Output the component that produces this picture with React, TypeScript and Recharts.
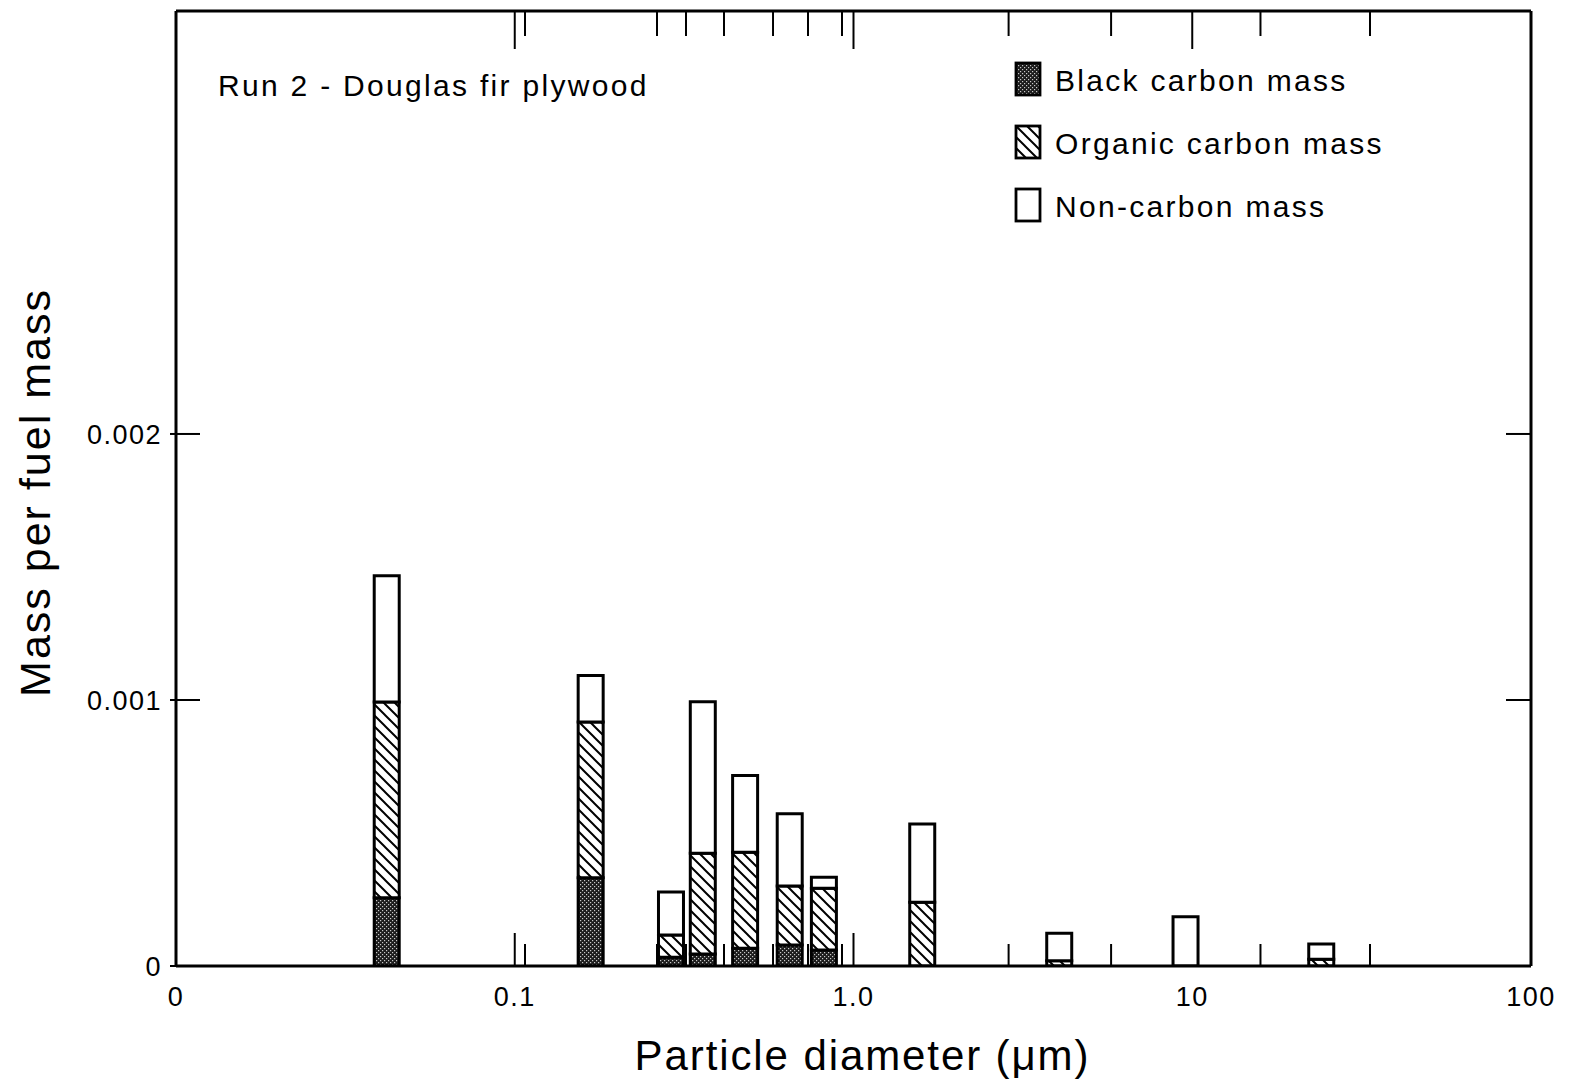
import React from "react";
import { ComposedChart, Bar, XAxis, YAxis, Legend } from "recharts";

// particle diameter (um), mass per fuel mass per component
const diameters = [0.042, 0.168, 0.29, 0.36, 0.48, 0.65, 0.82, 1.6, 4.06, 9.58, 24.1];
const blackCarbon = [0.000257, 0.000332, 0.000033, 0.000045, 0.000067, 0.000079, 0.00006, 0, 0, 0, 0];
const organicCarbon = [0.000735, 0.000585, 0.000084, 0.000379, 0.000361, 0.000222, 0.000232, 0.00024, 0.00002, 0, 0.000025];
const nonCarbon = [0.000475, 0.000175, 0.000161, 0.000569, 0.000288, 0.000271, 0.000042, 0.000294, 0.000103, 0.000185, 0.000058];

const xLabelTicks = [0.01, 0.1, 1, 10, 100];
const xLabels = ["0", "0.1", "1.0", "10", "100"];
const topDecadeTicks = [0.1, 1, 10];
const bottomDecadeTicks = [0.1, 1];
const stageTicks = [0.1072, 0.263, 0.3203, 0.4147, 0.5787, 0.734, 0.9249, 2.87, 5.76, 15.9, 33.47];
const yTicks = [0, 0.001, 0.002];
const yLabels = ["0", "0.001", "0.002"];
const yInnerTicks = [0.001, 0.002];

const title = "Run 2 - Douglas fir plywood";

const series = [
  { key: "bc", name: "Black carbon mass", fill: "url(#bcDots)" },
  { key: "oc", name: "Organic carbon mass", fill: "url(#ocHatch)" },
  { key: "nc", name: "Non-carbon mass", fill: "#ffffff" },
];

const data = diameters.map((d, i) => ({
  d,
  bc: blackCarbon[i],
  oc: organicCarbon[i],
  nc: nonCarbon[i],
}));

const FONT = "'Liberation Sans', Arial, Helvetica, sans-serif";
const X_DOMAIN: [number, number] = [0.01, 100];

const Patterns = () => (
  <svg width={0} height={0} style={{ position: "absolute" }}>
    <defs>
      <pattern id="bcDots" patternUnits="userSpaceOnUse" width={4} height={4}>
        <rect width={4} height={4} fill="#1c1c1c" />
        <rect x={0} y={0} width={1.2} height={1.2} fill="#c8c8c8" />
        <rect x={2} y={2} width={1.2} height={1.2} fill="#c8c8c8" />
      </pattern>
      <pattern id="ocHatch" patternUnits="userSpaceOnUse" width={11} height={11}>
        <rect width={11} height={11} fill="#fff" />
        <path d="M-1,-1 L12,12 M-6.5,4.5 L6.5,17.5 M4.5,-6.5 L17.5,6.5" stroke="#000" strokeWidth={2} />
      </pattern>
    </defs>
  </svg>
);

const textStyle = { fontSize: 30, lineHeight: "30px", letterSpacing: 2.3, whiteSpace: "nowrap" as const };

const LegendBox = () => (
  <div style={{ position: "relative", width: 1571, height: 240, fontFamily: FONT, color: "#000" }}>
    <div style={{ position: "absolute", left: 218, top: 71, ...textStyle }}>{title}</div>
    {series.map((s, i) => (
      <div key={s.key}>
        <svg width={30} height={38} style={{ position: "absolute", left: 1014, top: 61 + i * 63 }}>
          <rect x={2} y={2} width={24} height={32} fill={s.fill} stroke="#000" strokeWidth={2.8} />
        </svg>
        <div style={{ position: "absolute", left: 1055, top: 66 + i * 63, ...textStyle }}>{s.name}</div>
      </div>
    ))}
  </div>
);

const NoTick = () => <g />;

// inward tick mark on the top / bottom frame; decade marks are longer
const InnerTick = ({ x, y, payload, dir, decades }: any) => {
  const isDecade = decades.includes(payload.value);
  const len = dir > 0 ? (isDecade ? 38 : 25) : isDecade ? 33 : 22;
  return <line x1={x} y1={y} x2={x} y2={y + dir * len} stroke="#000" strokeWidth={2} />;
};

const XTick = ({ x, y, payload }: any) => {
  const idx = xLabelTicks.indexOf(payload.value);
  return (
    <text x={x} y={y + 40} textAnchor="middle" fontSize={27} fontFamily={FONT} letterSpacing={1.5} fill="#000">
      {idx >= 0 ? xLabels[idx] : ""}
    </text>
  );
};

const YTick = ({ x, y, payload }: any) => {
  const idx = yTicks.indexOf(payload.value);
  return (
    <text x={x} y={y + 10} textAnchor="end" fontSize={27} fontFamily={FONT} letterSpacing={1.5} fill="#000">
      {idx >= 0 ? yLabels[idx] : ""}
    </text>
  );
};

const tickLineStyle = { stroke: "#000", strokeWidth: 2 };
const frameStyle = { stroke: "#000", strokeWidth: 3 };

export default function App() {
  return (
    <div style={{ position: "absolute", left: 0, top: 0, background: "#fff" }}>
      <Patterns />
      <ComposedChart
        width={1571}
        height={1092}
        data={data}
        margin={{ top: 11, right: 40, bottom: 0, left: 0 }}
        barGap={0}
      >
        <XAxis
          xAxisId="x"
          dataKey="d"
          type="number"
          scale="log"
          domain={X_DOMAIN}
          allowDataOverflow
          ticks={xLabelTicks}
          interval={0}
          height={126}
          tickSize={0}
          tickMargin={0}
          tickLine={false}
          axisLine={frameStyle}
          tick={<XTick />}
          label={{
            content: ({ viewBox }: any) => (
              <text
                x={viewBox.x + viewBox.width / 2 + 9}
                y={viewBox.y + 104}
                textAnchor="middle"
                fontSize={42}
                fontFamily={FONT}
                letterSpacing={1.9}
                fill="#000"
              >
                Particle diameter (μm)
              </text>
            ),
          }}
        />
        <XAxis
          xAxisId="xb"
          dataKey="d"
          type="number"
          scale="log"
          domain={X_DOMAIN}
          allowDataOverflow
          ticks={[...stageTicks, ...bottomDecadeTicks]}
          interval={0}
          mirror
          tickSize={0}
          tickMargin={0}
          tickLine={false}
          axisLine={false}
          tick={<InnerTick dir={-1} decades={bottomDecadeTicks} />}
        />
        <XAxis
          xAxisId="xt"
          dataKey="d"
          orientation="top"
          type="number"
          scale="log"
          domain={X_DOMAIN}
          allowDataOverflow
          ticks={[...stageTicks, ...topDecadeTicks]}
          interval={0}
          mirror
          tickSize={0}
          tickMargin={0}
          tickLine={false}
          axisLine={frameStyle}
          tick={<InnerTick dir={1} decades={topDecadeTicks} />}
        />
        <YAxis
          yAxisId="y"
          type="number"
          domain={[0, 0.00359]}
          allowDataOverflow
          ticks={yTicks}
          interval={0}
          width={176}
          tickSize={6}
          tickMargin={8}
          axisLine={frameStyle}
          tickLine={tickLineStyle}
          tick={<YTick />}
          label={{
            content: ({ viewBox }: any) => (
              <text
                transform={`translate(50, ${viewBox.y + viewBox.height / 2 + 4}) rotate(-90)`}
                textAnchor="middle"
                fontSize={43}
                fontFamily={FONT}
                letterSpacing={2}
                fill="#000"
              >
                Mass per fuel mass
              </text>
            ),
          }}
        />
        <YAxis yAxisId="yIn" type="number" domain={[0, 0.00359]} allowDataOverflow ticks={yInnerTicks} interval={0} mirror tick={<NoTick />} tickSize={24} axisLine={false} tickLine={tickLineStyle} />
        <YAxis yAxisId="yR" orientation="right" type="number" domain={[0, 0.00359]} allowDataOverflow ticks={yInnerTicks} interval={0} mirror tick={<NoTick />} tickSize={25} axisLine={frameStyle} tickLine={tickLineStyle} />
        <Legend layout="vertical" align="center" verticalAlign="middle" wrapperStyle={{ left: 0, top: 0, width: 1571, height: 240 }} content={() => <LegendBox />} />
        {series.map((s) => (
          <Bar
            key={s.key}
            xAxisId="x"
            yAxisId="y"
            dataKey={s.key}
            name={s.name}
            stackId="mass"
            barSize={25}
            fill={s.fill}
            stroke="#000"
            strokeWidth={3}
            isAnimationActive={false}
          />
        ))}
      </ComposedChart>
    </div>
  );
}
